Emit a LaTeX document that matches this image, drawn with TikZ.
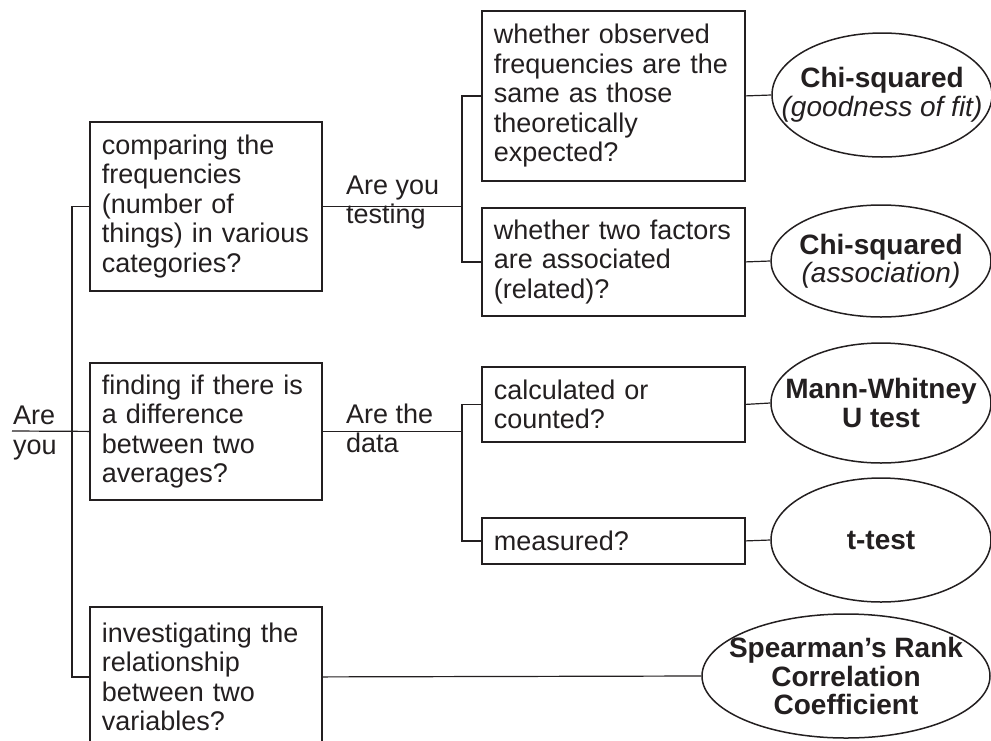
\documentclass[tikz,border=0pt]{standalone}
\usepackage{fontspec}
\setmainfont{Liberation Sans}
\usetikzlibrary{shapes.geometric}
\definecolor{ink}{HTML}{231F20}
\begin{document}
\begin{tikzpicture}[x=1pt,y=-1pt,
  txt/.style={font=\fontsize{27}{29.5}\selectfont, text=ink},
  qbox/.style={txt, draw=ink, line width=1.8pt, anchor=north west, align=left, inner xsep=12pt, inner ysep=0pt},
  oval/.style={ellipse, draw=ink, line width=1.5pt, inner sep=0pt},
  otext/.style={font=\fontsize{28}{28.5}\selectfont, text=ink, align=center, inner sep=0pt},
  conn/.style={draw=ink, line width=1.2pt},
  lab/.style={txt, anchor=base west, inner sep=0pt}
]
\useasboundingbox (0,0) rectangle (991,740);
\clip (0,0) rectangle (991,740);

% question boxes, first level
\node[qbox, text width=208pt, minimum width=232pt, minimum height=169pt] (b1) at (89,121)
  {comparing the\\frequencies\\(number of\\things) in various\\categories?};
\node[qbox, text width=208pt, minimum width=232pt, minimum height=137pt] (b2) at (89,362)
  {finding if there is\\a difference\\between two\\averages?};
\node[qbox, text width=208pt, minimum width=232pt, minimum height=140pt] (b3) at (89,606)
  {investigating the\\relationship\\between two\\variables?};

% second level boxes
\node[qbox, text width=239pt, minimum width=263pt, minimum height=170pt] (bA) at (481,10)
  {whether observed\\frequencies are the\\same as those\\theoretically\\expected?};
\node[qbox, text width=239pt, minimum width=263pt, minimum height=108pt] (bB) at (481,207)
  {whether two factors\\are associated\\(related)?};
\node[qbox, text width=239pt, minimum width=263pt, minimum height=75pt] (bC) at (481,366)
  {calculated or\\counted?};
\node[qbox, text width=239pt, minimum width=263pt, minimum height=46pt] (bD) at (481,517)
  {measured?};

% result ellipses
\node[oval, minimum width=220pt, minimum height=124pt] (e1) at (882,95) {};
\node[otext] (e1t) at (e1) {\textbf{Chi-squared}\\\textit{(goodness of fit)}};
\node[oval, minimum width=220pt, minimum height=112pt] (e2) at (881,261) {};
\node[otext] (e2t) at (e2) {\textbf{Chi-squared}\\\textit{(association)}};
\node[oval, minimum width=220pt, minimum height=120pt] (e3) at (881,403) {};
\node[otext] (e3t) at (e3) {\textbf{Mann-Whitney}\\\textbf{U test}};
\node[oval, minimum width=220pt, minimum height=124pt] (e4) at (881,540) {};
\node[otext] (e4t) at (e4) {\textbf{t-test}};
\node[oval, minimum width=288pt, minimum height=124pt] (e5) at (846,676) {};
\node[otext] (e5t) at (e5) {\textbf{Spearman’s Rank}\\\textbf{Correlation}\\\textbf{Coefficient}};

% labels
\node[lab] (are1) at (13,424) {Are};
\node[lab] (are2) at (13,454) {you};
\node[lab] (q1a) at (346,194) {Are you};
\node[lab] (q1b) at (346,223) {testing};
\node[lab] (q2a) at (346,423) {Are the};
\node[lab] (q2b) at (346,452) {data};

% connectors
\coordinate (start) at (12,431);
\coordinate (jl) at (72,0);
\coordinate (jt) at (462,0);
\draw[conn] (start) -- (b2.west);
\draw[conn] (b1.west) -- (b1.west -| jl) |- (b3.west);
\draw[conn] (b1.east) -- (b1.east -| jt);
\draw[conn] (bA.west) -- (bA.west -| jt) |- (bB.west);
\draw[conn] (b2.east) -- (b2.east -| jt);
\draw[conn] (bC.west) -- (bC.west -| jt) |- (bD.west);
\draw[conn] (bA.east) -- (e1.west);
\draw[conn] (bB.east) -- (e2.west);
\draw[conn] (bC.east) -- (e3.west);
\draw[conn] (bD.east) -- (e4.west);
\draw[conn] (b3.east) -- (e5.west);
\end{tikzpicture}
\end{document}
